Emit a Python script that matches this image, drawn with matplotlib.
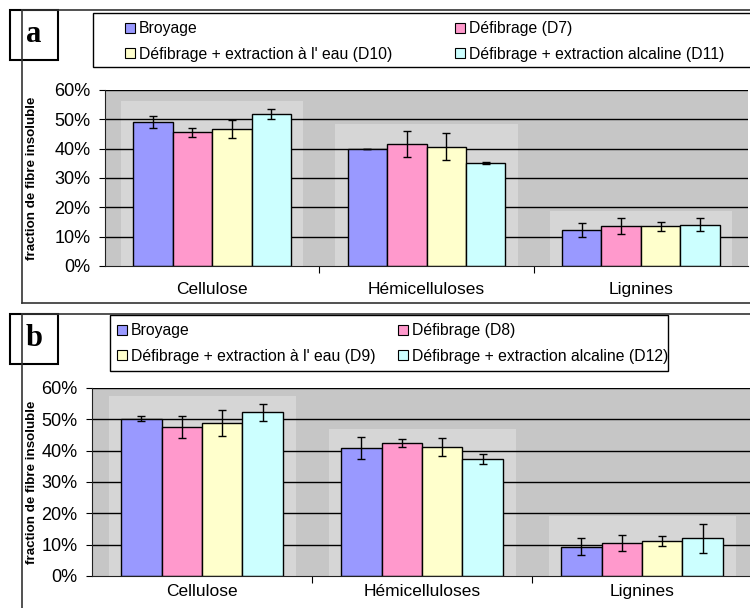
import numpy as np
import matplotlib.pyplot as plt
from matplotlib.patches import Rectangle
from matplotlib.lines import Line2D

plt.rcParams['font.family'] = ['Liberation Sans', 'DejaVu Sans']

categories = ['Cellulose', 'Hémicelluloses', 'Lignines']
colors = ['#9999ff', '#ff99cc', '#ffffcc', '#ccffff']

series_a = ['Broyage', 'Défibrage (D7)',
            "Défibrage + extraction à l' eau (D10)",
            'Défibrage + extraction alcaline (D11)']
values_a = [[49.0, 39.8, 12.2],
            [45.6, 41.5, 13.5],
            [46.7, 40.6, 13.5],
            [51.8, 35.1, 14.1]]
errors_a = [[2.0, 0.0, 2.4],
            [1.5, 4.5, 2.7],
            [3.1, 4.6, 1.4],
            [1.8, 0.3, 2.3]]

series_b = ['Broyage', 'Défibrage (D8)',
            "Défibrage + extraction à l' eau (D9)",
            'Défibrage + extraction alcaline (D12)']
values_b = [[50.2, 40.8, 9.4],
            [47.6, 42.4, 10.6],
            [48.8, 41.2, 11.2],
            [52.2, 37.3, 12.0]]
errors_b = [[0.8, 3.6, 2.6],
            [3.4, 1.2, 2.5],
            [4.2, 3.0, 1.5],
            [2.8, 1.5, 4.5]]

W, H = 750, 608
fig = plt.figure(figsize=(7.5, 6.08), dpi=100)


def fx(x):
    return x / W


def fy(y):
    return 1 - y / H


def fig_line(x0, y0, x1, y1, lw=1.2):
    fig.add_artist(Line2D([fx(x0), fx(x1)], [fy(y0), fy(y1)], color='#333333', lw=lw))


def fig_box(x0, y0, x1, y1, lw=1.0):
    fig.add_artist(Rectangle((fx(x0), fy(y1)), fx(x1) - fx(x0), fy(y0) - fy(y1),
                             facecolor='white', edgecolor='black', lw=lw))


def panel(letter, top, bottom, ax_box, leg_box, leg_cols, cat_pad,
          series, values, errors):
    # panel frame
    fig_line(22, top, 752, top)
    fig_line(22, top, 22, bottom)
    fig_line(22, bottom, 752, bottom)
    # letter box
    fig_box(10, top, 58, top + 50, lw=1.5)
    fig.text(fx(34), fy(top + 25), letter, ha='center', va='center',
             fontsize=22, fontweight='bold', family='Liberation Serif')
    # legend
    lx0, ly0, lx1, ly1 = leg_box
    fig_box(lx0, ly0, lx1, ly1)
    for i, name in enumerate(series):
        row, col = divmod(i, 2)
        mx = leg_cols[col]
        my = ly0 + 15 + row * 25
        fig.add_artist(Rectangle((fx(mx), fy(my + 5)), fx(10), 10 / H,
                                 facecolor=colors[i], edgecolor='black', lw=0.8))
        fig.text(fx(mx + 14), fy(my + 1), name, va='center', fontsize=11.3)

    x0, y0, x1, y1 = ax_box
    ax = fig.add_axes([fx(x0), fy(y1), fx(x1) - fx(x0), fy(y0) - fy(y1)])
    ax.set_facecolor('#c6c6c6')
    x = np.arange(len(categories))
    bw = 0.184
    n = len(series)
    # lighter zone behind each group
    for j in range(len(categories)):
        hi = max(values[i][j] + errors[i][j] for i in range(n)) + 2.5
        ax.add_patch(Rectangle((x[j] - 0.425, 0), 0.85, hi, facecolor='#d6d6d6',
                               edgecolor='none', zorder=0.5))
    for v in range(10, 61, 10):
        ax.axhline(v, color='black', lw=1, zorder=1)
    for i in range(n):
        ax.bar(x + (i - 1.5) * bw, values[i], bw, color=colors[i], edgecolor='black',
               lw=1, zorder=2)
        ax.errorbar(x + (i - 1.5) * bw, values[i], yerr=errors[i], fmt='none',
                    ecolor='black', elinewidth=1, capsize=3, capthick=1, zorder=3)
    ax.set_xlim(-0.5, 2.5)
    ax.set_ylim(0, 60)
    ax.set_yticks(range(0, 61, 10))
    ax.set_yticklabels([f'{v}%' for v in range(0, 61, 10)], fontsize=13)
    ax.set_xticks([0.5, 1.5])
    ax.set_xticklabels([])
    ax.set_xticks(x, minor=True)
    ax.set_xticklabels(categories, minor=True, fontsize=12.5)
    ax.tick_params(axis='x', which='minor', length=0, pad=cat_pad)
    ax.tick_params(axis='x', which='major', length=5, direction='out')
    ax.tick_params(axis='y', length=4.5, direction='out', pad=6)
    for s in ['top', 'right']:
        ax.spines[s].set_visible(False)
    ax.spines['left'].set_color('#222222')
    ax.spines['bottom'].set_color('#222222')
    ax.set_ylabel('fraction de fibre insoluble', fontsize=9.6, fontweight='bold')
    ax.yaxis.set_label_coords(-(x0 - 38) / (x1 - x0), 0.5)
    return ax


panel('a', 10, 303, (105, 90, 748, 266), (93, 13, 760, 67), (125, 455), 11.5,
      series_a, values_a, errors_a)
panel('b', 314, 612, (92, 388, 752, 576), (110, 315, 668, 371), (117, 398), 6,
      series_b, values_b, errors_b)

fig.savefig('out.png', dpi=100)
